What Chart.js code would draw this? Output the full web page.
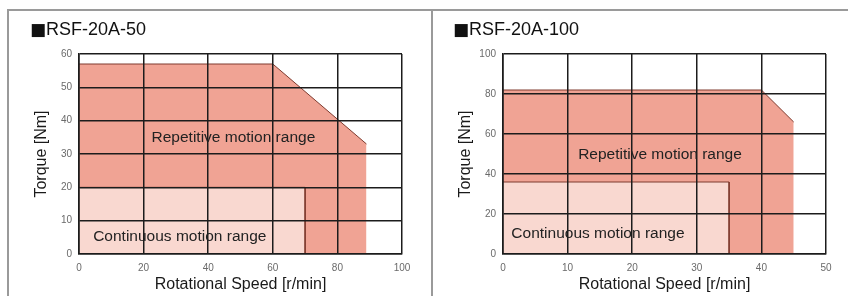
<!DOCTYPE html>
<html>
<head>
<meta charset="utf-8">
<script src="https://cdn.jsdelivr.net/npm/chart.js@4.4.1/dist/chart.umd.min.js"></script>
<style>
  html, body { margin:0; padding:0; background:#fff; width:848px; height:296px; overflow:hidden; }
  .line { position:absolute; background:#9a9a9a; }
  .panel { position:absolute; top:11px; height:285px; }
  canvas { display:block; }
</style>
</head>
<body>
<div class="line" style="left:7px; top:9px; width:841px; height:2px;"></div>
<div class="line" style="left:7px; top:9px; width:2px; height:287px;"></div>
<div class="line" style="left:431px; top:9px; width:2px; height:287px;"></div>
<div class="panel" style="left:9px; width:422px;"><canvas id="c50" width="422" height="285"></canvas></div>
<div class="panel" style="left:433px; width:415px;"><canvas id="c100" width="415" height="285"></canvas></div>
<script>
// ---- Data ----
const titles = ['RSF-20A-50', 'RSF-20A-100'];
const titleMark = '■';
const xAxisTitle = 'Rotational Speed [r/min]';
const yAxisTitle = 'Torque [Nm]';
const regionNames = ['Repetitive motion range', 'Continuous motion range'];

// RSF-20A-50
const repSpeed50  = [0, 60, 89, 89];
const repTorque50 = [57, 57, 33, 0];
const contSpeed50  = [0, 70, 70];
const contTorque50 = [20, 20, 0];
const xTicks50 = [0, 20, 40, 60, 80, 100];
const yTicks50 = [0, 10, 20, 30, 40, 50, 60];

// RSF-20A-100
const repSpeed100  = [0, 40, 45, 45];
const repTorque100 = [82, 82, 66, 0];
const contSpeed100  = [0, 35, 35];
const contTorque100 = [36, 36, 0];
const xTicks100 = [0, 10, 20, 30, 40, 50];
const yTicks100 = [0, 20, 40, 60, 80, 100];

// ---- Rendering ----
Chart.defaults.font.family = "'Liberation Sans', Arial, Helvetica, sans-serif";

function pts(xs, ys) { return xs.map((x, i) => ({ x: x, y: ys[i] })); }

function makeChart(id, title, repX, repY, contX, contY, xTicks, yTicks, labelPos, rightPad, titleX) {
  const labelPlugin = {
    id: 'regionLabels_' + id,
    afterDraw(chart) {
      const { ctx, scales } = chart;
      ctx.save();
      // heading: black square mark + model name
      ctx.fillStyle = '#111';
      ctx.textAlign = 'left';
      ctx.textBaseline = 'alphabetic';
      ctx.font = "17px 'DejaVu Sans', sans-serif";
      ctx.fillText(titleMark, titleX, 24);
      ctx.font = "18px 'Liberation Sans', Arial, sans-serif";
      ctx.fillText(title, titleX + 16, 24);
      // region labels
      ctx.font = "15.5px 'Liberation Sans', Arial, sans-serif";
      ctx.fillStyle = '#222';
      ctx.textAlign = 'center';
      ctx.textBaseline = 'middle';
      labelPos.forEach((p, i) => {
        ctx.fillText(regionNames[i], scales.x.getPixelForValue(p[0]), scales.y.getPixelForValue(p[1]));
      });
      ctx.restore();
    }
  };
  const hideVertical = (c) => (c.p0.parsed.x === c.p1.parsed.x) ? 'rgba(0,0,0,0)' : '#7e3a2e';
  return new Chart(document.getElementById(id), {
    type: 'scatter',
    data: {
      datasets: [
        {
          data: pts(repX, repY), showLine: true, fill: 'origin', order: 2,
          backgroundColor: '#f0a394', borderColor: '#7e3a2e', borderWidth: 1,
          pointRadius: 0, pointHoverRadius: 0,
          segment: { borderColor: hideVertical }
        },
        {
          data: pts(contX, contY), showLine: true, fill: 'origin', order: 1,
          backgroundColor: '#f9d8d0', borderColor: '#7e3a2e', borderWidth: 1,
          pointRadius: 0, pointHoverRadius: 0
        }
      ]
    },
    options: {
      responsive: false, animation: false, devicePixelRatio: 1,
      layout: { padding: { left: 21, right: rightPad, top: 43, bottom: 0 } },
      plugins: {
        legend: { display: false },
        tooltip: { enabled: false },
        title: { display: false }
      },
      scales: {
        x: {
          type: 'linear', min: xTicks[0], max: xTicks[xTicks.length - 1],
          afterBuildTicks: (s) => { s.ticks = xTicks.map(v => ({ value: v })); },
          afterFit: (s) => { s.height = 42; },
          grid: { color: '#1c1c1c', lineWidth: 1.5, drawTicks: false, z: 1 },
          border: { display: true, color: '#1c1c1c', width: 1.6, z: 1 },
          ticks: { color: '#6a6a6a', font: { size: 10 }, padding: 8, maxRotation: 0 },
          title: { display: true, text: xAxisTitle, color: '#1a1a1a', font: { size: 16 }, padding: { top: 0, bottom: 1.4 } }
        },
        y: {
          type: 'linear', min: yTicks[0], max: yTicks[yTicks.length - 1],
          afterBuildTicks: (s) => { s.ticks = yTicks.map(v => ({ value: v })); },
          afterFit: (s) => { s.width = 49; },
          grid: { color: '#1c1c1c', lineWidth: 1.5, drawTicks: false, z: 1 },
          border: { display: true, color: '#1c1c1c', width: 1.6, z: 1 },
          ticks: { color: '#6a6a6a', font: { size: 10 }, padding: 7 },
          title: { display: true, text: yAxisTitle, color: '#1a1a1a', font: { size: 16 }, padding: { top: 2.4, bottom: 0 } }
        }
      }
    },
    plugins: [labelPlugin]
  });
}

makeChart('c50', titles[0], repSpeed50, repTorque50, contSpeed50, contTorque50,
  xTicks50, yTicks50, [[47.8, 35], [31.2, 5.1]], 29, 21);
makeChart('c100', titles[1], repSpeed100, repTorque100, contSpeed100, contTorque100,
  xTicks100, yTicks100, [[24.3, 49.4], [14.7, 9.9]], 22, 20);
</script>
</body>
</html>
